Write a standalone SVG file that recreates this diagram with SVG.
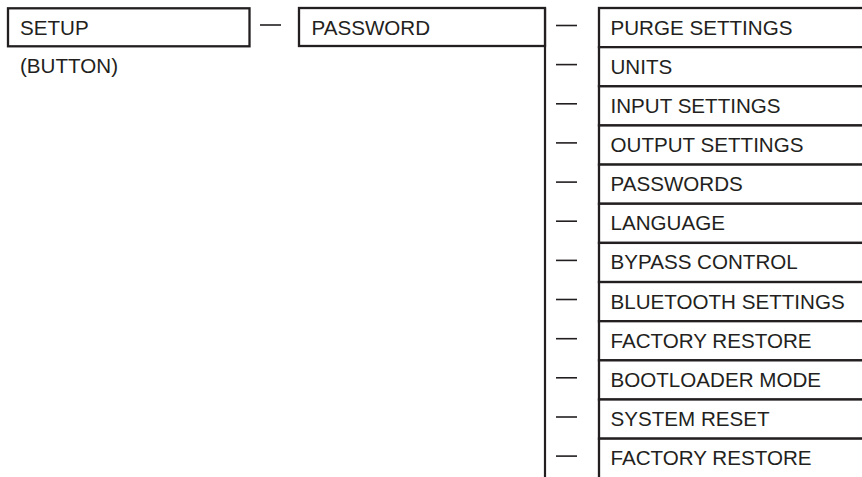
<svg xmlns="http://www.w3.org/2000/svg" width="862" height="477" viewBox="0 0 862 477">
<style>
  .box { fill: #ffffff; stroke: #231f20; stroke-width: 2.3; }
  .lbl { font-family: "Liberation Sans", Arial, sans-serif; font-size: 20.6px; fill: #231f20; }
  .dash { stroke: #231f20; stroke-width: 1.6; fill: none; }
  .bar { stroke: #231f20; stroke-width: 2.2; fill: none; }
</style>
<rect width="862" height="477" fill="#ffffff"/>
<g id="connectors">
  <line class="dash" x1="260" y1="25" x2="281" y2="25"/>
  <line class="bar" x1="545" y1="8" x2="545" y2="480"/>
  <line class="dash" x1="556" y1="25.5" x2="577" y2="25.5"/>
  <line class="dash" x1="556" y1="64.6" x2="577" y2="64.6"/>
  <line class="dash" x1="556" y1="103.8" x2="577" y2="103.8"/>
  <line class="dash" x1="556" y1="142.9" x2="577" y2="142.9"/>
  <line class="dash" x1="556" y1="182.1" x2="577" y2="182.1"/>
  <line class="dash" x1="556" y1="221.2" x2="577" y2="221.2"/>
  <line class="dash" x1="556" y1="260.4" x2="577" y2="260.4"/>
  <line class="dash" x1="556" y1="299.5" x2="577" y2="299.5"/>
  <line class="dash" x1="556" y1="338.7" x2="577" y2="338.7"/>
  <line class="dash" x1="556" y1="377.8" x2="577" y2="377.8"/>
  <line class="dash" x1="556" y1="417" x2="577" y2="417"/>
  <line class="dash" x1="556" y1="456.1" x2="577" y2="456.1"/>
</g>
<g id="setup">
  <rect class="box" x="8" y="8.3" width="241.5" height="38"/>
  <text class="lbl" x="20" y="34.5">SETUP</text>
  <text class="lbl" x="20" y="72.5">(BUTTON)</text>
</g>
<g id="password">
  <rect class="box" x="299" y="8" width="246" height="38"/>
  <text class="lbl" x="311.5" y="34.5">PASSWORD</text>
</g>
<g id="purge-settings">
  <rect class="box" x="599" y="8" width="290" height="39.15"/>
  <text class="lbl" x="610.5" y="34.5">PURGE SETTINGS</text>
</g>
<g id="units">
  <rect class="box" x="599" y="47.15" width="290" height="39.15"/>
  <text class="lbl" x="610.5" y="73.65">UNITS</text>
</g>
<g id="input-settings">
  <rect class="box" x="599" y="86.3" width="290" height="39.15"/>
  <text class="lbl" x="610.5" y="112.8">INPUT SETTINGS</text>
</g>
<g id="output-settings">
  <rect class="box" x="599" y="125.45" width="290" height="39.15"/>
  <text class="lbl" x="610.5" y="151.95">OUTPUT SETTINGS</text>
</g>
<g id="passwords">
  <rect class="box" x="599" y="164.6" width="290" height="39.15"/>
  <text class="lbl" x="610.5" y="191.1">PASSWORDS</text>
</g>
<g id="language">
  <rect class="box" x="599" y="203.75" width="290" height="39.15"/>
  <text class="lbl" x="610.5" y="230.25">LANGUAGE</text>
</g>
<g id="bypass-control">
  <rect class="box" x="599" y="242.9" width="290" height="39.15"/>
  <text class="lbl" x="610.5" y="269.4">BYPASS CONTROL</text>
</g>
<g id="bluetooth-settings">
  <rect class="box" x="599" y="282.05" width="290" height="39.15"/>
  <text class="lbl" x="610.5" y="308.55">BLUETOOTH SETTINGS</text>
</g>
<g id="factory-restore-1">
  <rect class="box" x="599" y="321.2" width="290" height="39.15"/>
  <text class="lbl" x="610.5" y="347.7">FACTORY RESTORE</text>
</g>
<g id="bootloader-mode">
  <rect class="box" x="599" y="360.35" width="290" height="39.15"/>
  <text class="lbl" x="610.5" y="386.85">BOOTLOADER MODE</text>
</g>
<g id="system-reset">
  <rect class="box" x="599" y="399.5" width="290" height="39.15"/>
  <text class="lbl" x="610.5" y="426">SYSTEM RESET</text>
</g>
<g id="factory-restore-2">
  <rect class="box" x="599" y="438.65" width="290" height="60"/>
  <text class="lbl" x="610.5" y="465.15">FACTORY RESTORE</text>
</g>
</svg>
